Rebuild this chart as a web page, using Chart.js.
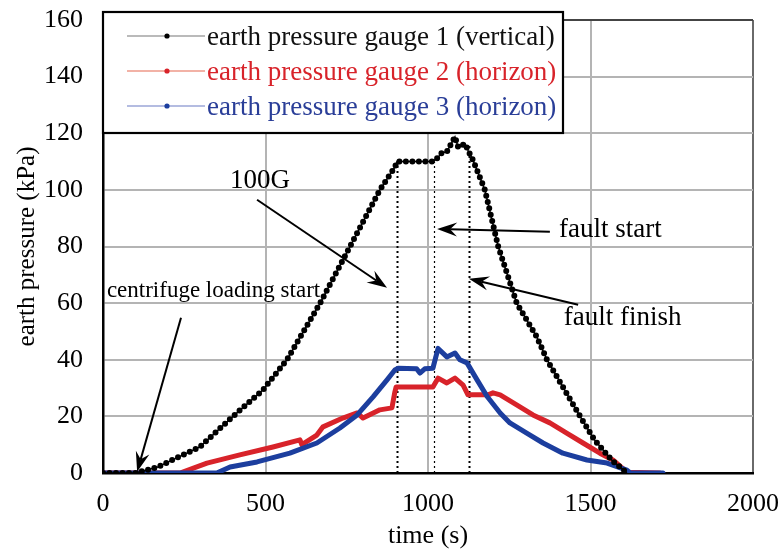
<!DOCTYPE html>
<html>
<head>
<meta charset="utf-8">
<title>earth pressure</title>
<script src="https://cdn.jsdelivr.net/npm/chart.js@4.4.1/dist/chart.umd.min.js"></script>
<style>
  html, body { margin: 0; padding: 0; background: #fff; }
  #chart { display: block; }
</style>
</head>
<body>
<canvas id="chart" width="780" height="552"></canvas>
<script>
// values: time in s, pressure in kPa
const gauge1Time = [0, 100, 166, 298, 400, 492, 566, 668, 760, 852, 898, 905, 1016, 1031, 1042, 1058, 1073, 1083, 1093, 1114, 1123, 1138, 1175, 1216, 1273, 1335, 1366, 1468, 1512, 1565, 1612];
const gauge1Kpa  = [0, 0, 2, 9.2, 20, 29.3, 40, 60, 80, 100, 108, 110, 110, 111.5, 113, 113.5, 116.6, 118.7, 115, 116.3, 114, 110.6, 100, 80, 60, 48, 40, 20, 11.7, 4.6, 0];

const gauge2Time = [0, 237, 320, 421, 523, 606, 612, 658, 677, 738, 782, 800, 852, 889, 898, 902, 1015, 1031, 1058, 1083, 1108, 1123, 1185, 1200, 1222, 1274, 1323, 1375, 1428, 1477, 1529, 1569, 1612, 1714];
const gauge2Kpa  = [0, 0, 3.5, 6.4, 9.2, 11.7, 10, 13.4, 16.3, 19.4, 21.2, 19.4, 22.3, 23, 28.6, 30.4, 30.4, 33.5, 31.8, 33.5, 31, 27.6, 27.6, 28.3, 27.6, 24, 20.5, 17.7, 14, 10.6, 7, 4.6, 0.3, 0];

const gauge3Time = [0, 350, 391, 474, 575, 658, 729, 782, 831, 874, 898, 908, 965, 975, 990, 1015, 1031, 1058, 1083, 1098, 1120, 1151, 1182, 1222, 1252, 1305, 1354, 1415, 1489, 1551, 1612, 1622, 1723];
const gauge3Kpa  = [0, 0, 2.1, 3.9, 7, 10.6, 15.9, 20.5, 26.9, 32.9, 36.4, 37, 36.8, 35.3, 36.8, 37, 44, 41, 42.4, 40, 38.9, 32.9, 27, 21.2, 17.7, 14, 10.6, 7, 4.6, 3.5, 1, 0, 0];

const seriesLabels = ['earth pressure gauge 1 (vertical)', 'earth pressure gauge 2 (horizon)', 'earth pressure gauge 3 (horizon)'];
const xTicks = [0, 500, 1000, 1500, 2000];
const yTicks = [0, 20, 40, 60, 80, 100, 120, 140, 160];

// 100G reached, fault start, fault finish
const eventTimes = [905, 1018, 1125];
const eventTops  = [110, 110, 116];

const SERIF = '"Liberation Serif", "Times New Roman", serif';
const RED = '#d8232a';
const BLUE = '#1c3e9e';

const toPoints = (xs, ys) => xs.map((x, i) => ({ x: x, y: ys[i] }));

// text labels and arrows, placed in data coordinates
const notes = [
  { text: '100G', x: 483, y: 103, align: 'center', size: 27, from: [474, 96.5], to: [874, 65.4] },
  { text: 'centrifuge loading start', x: 12, y: 64.3, align: 'left', size: 23, from: [240, 54.8], to: [105, 0.4] },
  { text: 'fault start', x: 1403, y: 85.9, align: 'left', size: 27, from: [1375, 85.2], to: [1028, 86.2] },
  { text: 'fault finish', x: 1418, y: 54.8, align: 'left', size: 27, from: [1462, 59.4], to: [1126, 68.6] }
];

function arrow(ctx, x1, y1, x2, y2) {
  const ang = Math.atan2(y2 - y1, x2 - x1);
  const len = 20, half = 7, notch = 13;
  ctx.beginPath();
  ctx.moveTo(x1, y1);
  ctx.lineTo(x2 - Math.cos(ang) * notch, y2 - Math.sin(ang) * notch);
  ctx.stroke();
  const bx = x2 - Math.cos(ang) * len, by = y2 - Math.sin(ang) * len;
  const nx = -Math.sin(ang), ny = Math.cos(ang);
  ctx.beginPath();
  ctx.moveTo(x2, y2);
  ctx.lineTo(bx + nx * half, by + ny * half);
  ctx.lineTo(x2 - Math.cos(ang) * notch, y2 - Math.sin(ang) * notch);
  ctx.lineTo(bx - nx * half, by - ny * half);
  ctx.closePath();
  ctx.fill();
}

const overlay = {
  id: 'overlay',
  beforeDatasetsDraw(chart) {
    const { ctx, scales: { x, y } } = chart;
    ctx.save();
    ctx.strokeStyle = '#000';
    ctx.setLineDash([2, 3]);
    eventTimes.forEach((t, i) => {
      const px = Math.round(x.getPixelForValue(t)) + 0.5;
      ctx.lineWidth = i === 1 ? 1.2 : 2;
      ctx.beginPath();
      ctx.moveTo(px, y.getPixelForValue(0));
      ctx.lineTo(px, y.getPixelForValue(eventTops[i]));
      ctx.stroke();
    });
    ctx.restore();
  },
  afterDatasetsDraw(chart) {
    const { ctx, scales: { x, y } } = chart;
    ctx.save();
    ctx.fillStyle = '#000';
    ctx.strokeStyle = '#000';
    ctx.lineWidth = 2;
    ctx.textBaseline = 'middle';
    notes.forEach(n => {
      ctx.font = n.size + 'px ' + SERIF;
      ctx.textAlign = n.align;
      ctx.fillText(n.text, x.getPixelForValue(n.x), y.getPixelForValue(n.y));
      arrow(ctx, x.getPixelForValue(n.from[0]), y.getPixelForValue(n.from[1]),
                 x.getPixelForValue(n.to[0]), y.getPixelForValue(n.to[1]));
    });
    ctx.restore();
  },
  afterDraw(chart) {
    // framed legend in the top-left corner of the plot
    const { ctx, chartArea } = chart;
    const left = chartArea.left, top = 12, w = 460, h = 121;
    ctx.save();
    ctx.fillStyle = '#fff';
    ctx.fillRect(left, top, w, h);
    ctx.strokeStyle = '#000';
    ctx.lineWidth = 2.2;
    ctx.strokeRect(left, top, w, h);
    const rows = [
      { line: '#777', lw: 1.2, dot: '#000', text: '#111' },
      { line: '#f2b2a6', lw: 2, dot: RED, text: RED },
      { line: '#6a7bc4', lw: 1.2, dot: BLUE, text: '#2a3e98' }
    ];
    ctx.font = '27px ' + SERIF;
    ctx.textAlign = 'left';
    ctx.textBaseline = 'alphabetic';
    rows.forEach((r, i) => {
      const ly = 36 + i * 35;
      ctx.strokeStyle = r.line;
      ctx.lineWidth = r.lw;
      ctx.beginPath();
      ctx.moveTo(left + 24, ly);
      ctx.lineTo(left + 102, ly);
      ctx.stroke();
      ctx.fillStyle = r.dot;
      ctx.beginPath();
      ctx.arc(left + 64, ly, 2.6, 0, Math.PI * 2);
      ctx.fill();
      ctx.fillStyle = r.text;
      ctx.fillText(seriesLabels[i], left + 104, ly + 9);
    });
    ctx.restore();
  }
};

Chart.defaults.font.family = SERIF;
Chart.defaults.color = '#000';

new Chart(document.getElementById('chart'), {
  type: 'line',
  data: {
    datasets: [
      {
        label: seriesLabels[0],
        data: toPoints(gauge1Time, gauge1Kpa),
        borderColor: '#000',
        borderWidth: 6,
        borderDash: [0, 6.5],
        borderCapStyle: 'round',
        pointRadius: 0
      },
      {
        label: seriesLabels[0] + ' line',
        data: toPoints(gauge1Time, gauge1Kpa),
        borderColor: '#000',
        borderWidth: 1.5,
        pointRadius: 0
      },
      {
        label: seriesLabels[2],
        data: toPoints(gauge3Time, gauge3Kpa),
        borderColor: BLUE,
        borderWidth: 5,
        borderJoinStyle: 'round',
        borderCapStyle: 'round',
        pointRadius: 0
      },
      {
        label: seriesLabels[1],
        data: toPoints(gauge2Time, gauge2Kpa),
        borderColor: RED,
        borderWidth: 5,
        borderJoinStyle: 'round',
        borderCapStyle: 'round',
        pointRadius: 0
      }
    ]
  },
  options: {
    responsive: false,
    animation: false,
    events: [],
    layout: { padding: { top: 20, right: 27, left: 0, bottom: 0 } },
    plugins: { legend: { display: false }, tooltip: { enabled: false } },
    elements: { line: { tension: 0 } },
    scales: {
      x: {
        type: 'linear',
        min: 0,
        max: 2000,
        afterBuildTicks: s => { s.ticks = xTicks.map(v => ({ value: v })); },
        afterFit: s => { s.height = 79; s.paddingLeft = 0; s.paddingRight = 0; },
        ticks: { font: { size: 26 }, padding: 16, maxRotation: 0, callback: v => String(v) },
        grid: {
          drawTicks: false,
          lineWidth: 2,
          color: c => c.tick.value === 2000 ? '#6a6a6a' : '#b4b4b4'
        },
        border: { color: '#000', width: 2.5 },
        title: { display: true, text: 'time (s)', font: { size: 26 }, padding: { top: 0, bottom: 0 } }
      },
      y: {
        min: 0,
        max: 160,
        afterBuildTicks: s => { s.ticks = yTicks.map(v => ({ value: v })); },
        afterFit: s => { s.width = 103; s.paddingTop = 0; s.paddingBottom = 0; },
        ticks: { font: { size: 26 }, padding: 20 },
        grid: {
          drawTicks: false,
          lineWidth: 2,
          color: c => c.tick.value === 160 ? '#444' : '#b4b4b4'
        },
        border: { color: '#000', width: 2.5 },
        title: { display: true, text: 'earth pressure (kPa)', font: { size: 25 }, padding: { top: 12, bottom: 0 } }
      }
    }
  },
  plugins: [overlay]
});
</script>
</body>
</html>
